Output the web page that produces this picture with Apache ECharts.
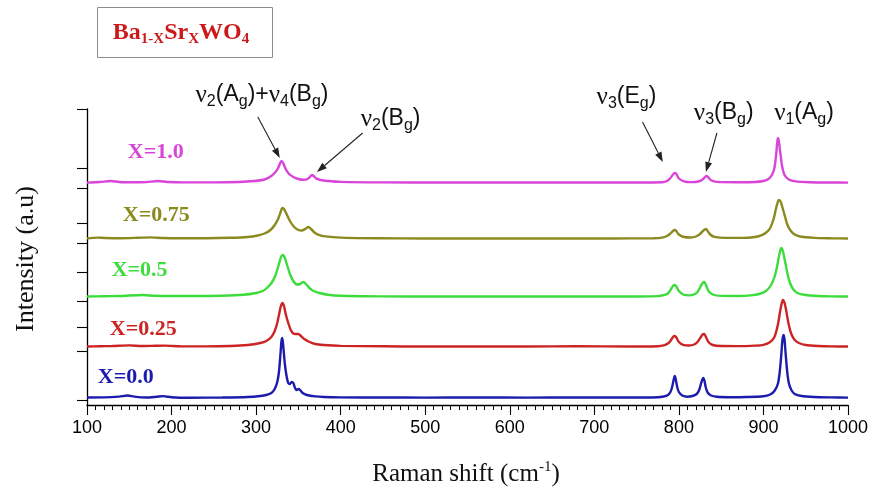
<!DOCTYPE html>
<html>
<head>
<meta charset="utf-8">
<script src="https://cdn.jsdelivr.net/npm/echarts@6/dist/echarts.min.js"></script>
<style>
  html, body { margin: 0; padding: 0; background: #fff; }
  #chart { width: 872px; height: 490px; }
</style>
</head>
<body>
<div id="chart"></div>
<script>
// Raman spectra of Ba(1-x)Sr(x)WO4, stacked with a vertical offset per composition.
const sampleNames = ['X=0.0', 'X=0.25', 'X=0.5', 'X=0.75', 'X=1.0'];
const sampleOffsets = [7, 58, 108, 166, 222];
const sampleColors = ['#1c1cac', '#cc2424', '#3ddc3d', '#8a8a1e', '#d944d9'];

// [Raman shift (cm-1), intensity above the spectrum's own baseline (a.u.)]
const specX00 = [
  [100,0.5],[120,0.6],[138,1.4],[148,2.5],[156,1.4],[170,0.5],[182,1.2],[190,1.9],[200,0.8],[220,0.3],
  [260,0.5],[290,1.0],[305,2],[312,3],[318,5],[322,9],[325,16],[327,26],[329,46],[330,57],[331,60],
  [332,53],[334,34],[336,22],[338,15],[340,14],[342,16],[344,15],[346,10],[348,8],[350,9],[352,8],
  [355,5],[360,3],[370,1.6],[380,1],[400,0.6],[450,0.5],[500,0.4],[560,0.5],[620,0.4],[680,0.5],
  [740,0.5],[775,0.8],[782,1.5],[787,3],[790,6],[792,11],[794,19],[795,22],[796,20],[798,11],
  [800,6],[804,2.5],[810,1.3],[816,2],[821,4],[824,8],[826,14],[828,19],[829,20],[830,18],[832,10],
  [834,5.5],[838,2.5],[845,1.2],[860,0.8],[880,1],[900,1.8],[908,3.5],[913,7],[917,14],[919,24],
  [921,42],[922,54],[923,61],[924,63],[925,58],[926,47],[928,27],[930,15],[933,8],[937,4],[945,2],
  [960,1],[980,0.6],[1000,0.4]
];
const specX025 = [
  [100,0.5],[115,0.8],[130,1],[150,1.6],[165,1],[180,1.2],[192,1.4],[210,0.7],[240,0.6],[270,1],
  [290,2],[305,4],[312,6],[318,10],[322,16],[325,24],[327,32],[329,40],[331,44],[333,41],[335,33],
  [338,24],[341,17],[344,13.5],[347,13],[350,13],[353,11],[357,8],[362,5.5],[370,3],[380,2],
  [400,1.1],[450,0.7],[500,0.5],[560,0.6],[620,0.5],[680,0.7],[740,0.5],[775,0.8],[782,1.6],
  [787,3.5],[790,6],[793,10],[795,11],[797,9.5],[800,5],[805,2.2],[812,1.5],[818,2.5],[822,5],
  [826,10],[828,12.5],[830,13],[832,10],[835,5],[840,2],[850,1],[870,0.9],[890,1.4],[900,2.2],
  [908,5],[913,10],[917,22],[920,37],[922,45],[923,47],[925,44],[927,36],[930,22],[933,13],
  [937,7],[942,4],[950,2],[965,1],[980,0.6],[1000,0.5]
];
const specX05 = [
  [100,0.5],[120,0.8],[140,1],[165,2],[180,1.2],[200,1],[230,1],[260,1.3],[285,2.2],[300,4],
  [308,6],[314,10],[319,15],[323,22],[326,30],[328,36],[330,41],[332,42],[334,39],[337,31],
  [340,23],[344,16],[348,12.5],[352,13],[356,15],[359,13],[363,9],[368,6],[375,4],[385,2.2],
  [400,1.2],[450,0.6],[500,0.5],[560,0.6],[620,0.5],[680,0.6],[740,0.5],[775,0.9],[782,1.8],
  [787,3.5],[790,7],[793,11],[795,12],[797,10.5],[800,6],[805,2.5],[812,1.6],[818,2.6],[822,5],
  [826,11],[828,14],[830,15],[832,12],[835,6],[840,2.5],[850,1.1],[870,1],[885,1.6],[895,3],
  [903,6],[909,12],[913,20],[916,30],[918,39],[920,47],[921,49],[923,46],[925,38],[928,25],
  [931,15],[935,8],[940,4],[950,2],[965,1],[980,0.6],[1000,0.5]
];
const specX075 = [
  [100,0.6],[112,1.4],[122,1],[140,0.8],[160,1.2],[175,1.6],[190,1],[210,0.8],[240,0.8],[270,1.2],
  [290,2],[302,3.5],[310,5.5],[317,9],[322,14],[326,20],[329,27],[331,31],[333,30],[336,25],
  [340,18],[345,12],[350,9],[354,8.5],[358,10],[362,12],[365,10],[369,6.5],[374,4.2],[382,2.6],
  [395,1.6],[420,0.9],[470,0.6],[530,0.5],[600,0.6],[660,0.5],[720,0.5],[770,0.8],[780,1.4],
  [786,3],[790,5.5],[793,8],[795,9],[797,8],[800,4.5],[806,2],[814,1.5],[820,2.5],[825,5],
  [829,8.5],[832,10],[834,8],[837,4.5],[842,2.2],[855,1.1],[875,1.1],[890,2],[898,3.8],[904,7],
  [908,11],[912,20],[915,31],[917,37],[918,39],[920,38],[922,33],[925,24],[928,15],[932,8.5],
  [937,4.5],[945,2.2],[960,1.1],[980,0.7],[1000,0.5]
];
const specX10 = [
  [100,0.4],[115,1],[128,2],[138,1],[155,0.7],[170,0.9],[184,2],[195,1],[215,0.6],[250,0.6],
  [280,1],[298,2],[310,3.5],[318,7],[323,11],[326,15],[328,19],[330,22],[332,20],[335,14],
  [339,9],[344,6],[350,4],[356,3.2],[360,3.6],[363,5.5],[366,8],[368,7],[371,4.6],[376,3],
  [385,2],[400,1.1],[450,0.6],[520,0.5],[600,0.5],[680,0.5],[750,0.5],[780,0.7],[786,2],
  [790,5],[793,8.5],[795,10],[797,9],[800,4.5],[806,1.7],[815,0.9],[823,1.5],[828,3.5],[831,6],
  [833,7],[835,5.5],[838,2.8],[845,1.1],[870,0.8],[890,1],[900,2],[906,4],[910,8],[913,15],
  [915,28],[916,38],[917,45],[918,43],[920,30],[922,17],[925,8],[930,3.5],[938,1.6],[955,0.8],
  [980,0.5],[1000,0.4]
];
const spectra = [specX00, specX025, specX05, specX075, specX10];

// Tick positions on the (unlabelled) intensity axis
const yTickValues = [5, 54, 78, 104, 133, 162, 182, 217, 237, 296];

// Peak assignments: text anchor, arrow start, arrow tip (data coordinates)
const peakLabels = [
  { text: '{n|ν}{s|2}{t|(A}{s|g}{t|)+}{n|ν}{s|4}{t|(B}{s|g}{t|)}', at: [307, 310], from: [302, 288], to: [328, 247] },
  { text: '{n|ν}{s|2}{t|(B}{s|g}{t|)}', at: [459, 286], from: [426, 272], to: [372, 233] },
  { text: '{n|ν}{s|3}{t|(E}{s|g}{t|)}', at: [738, 308], from: [757, 283], to: [781, 243] },
  { text: '{n|ν}{s|3}{t|(B}{s|g}{t|)}', at: [853, 292], from: [845, 272], to: [832, 233] },
  { text: '{n|ν}{s|1}{t|(A}{s|g}{t|)}', at: [948, 292], from: null, to: null }
];

// Left edge / vertical centre of each composition label (data coordinates)
const sampleLabelPos = [[112.7, 28], [126.9, 76], [129.2, 135], [142.4, 190], [148.3, 253]];

const chart = echarts.init(document.getElementById('chart'), null, { renderer: 'canvas' });

const series = spectra.map((spec, i) => ({
  name: sampleNames[i],
  type: 'line',
  data: spec.map(p => [p[0], sampleOffsets[i] + p[1]]),
  showSymbol: false,
  smooth: 0.25,
  lineStyle: { color: sampleColors[i], width: 2.4 },
  itemStyle: { color: sampleColors[i] },
  z: 3,
  animation: false
}));

chart.setOption({
  animation: false,
  backgroundColor: '#fff',
  grid: { left: 87, right: 24, top: 109, bottom: 85, containLabel: false },
  xAxis: {
    type: 'value',
    min: 100, max: 1000, interval: 100,
    axisLine: { lineStyle: { color: '#000', width: 1.3 } },
    axisTick: { length: 10, lineStyle: { color: '#000', width: 1.1 } },
    minorTick: { show: true, splitNumber: 10, length: 5, lineStyle: { color: '#000', width: 1 } },
    axisLabel: {
      color: '#000', fontSize: 18, fontFamily: 'Liberation Sans, Arial, sans-serif', margin: 14,
      formatter: v => String(v)
    },
    splitLine: { show: false }
  },
  yAxis: {
    type: 'value',
    min: 0, max: 296,
    axisLine: { show: true, lineStyle: { color: '#000', width: 1.3 } },
    axisTick: { show: true, length: 10, customValues: yTickValues, lineStyle: { color: '#000', width: 1.1 } },
    axisLabel: { show: false },
    splitLine: { show: false }
  },
  series: series
});

function toPx(p) { return chart.convertToPixel({ gridIndex: 0 }, p); }

const serif = 'Liberation Serif, Times New Roman, serif';
const sans = 'Liberation Sans, Arial, sans-serif';
const graphics = [];

// Compound name box
graphics.push({
  type: 'rect', shape: { x: 97.5, y: 7.5, width: 175, height: 50 },
  style: { fill: '#fff', stroke: '#8c8c8c', lineWidth: 1 }, z: 10
});
graphics.push({
  type: 'text', x: 181, y: 33, z: 11,
  style: {
    text: '{b|Ba}{s|1-X}{b|Sr}{s|X}{b|WO}{s|4}',
    align: 'center', verticalAlign: 'middle',
    rich: {
      b: { fontSize: 24, fontWeight: 'bold', fontFamily: serif, fill: '#cc1a1a' },
      s: { fontSize: 15, fontWeight: 'bold', fontFamily: serif, fill: '#cc1a1a', padding: [12, 0, 0, 0] }
    }
  }
});

// Composition labels
sampleNames.forEach((name, i) => {
  const p = toPx(sampleLabelPos[i]);
  graphics.push({
    type: 'text', x: p[0], y: p[1], z: 10,
    style: {
      text: name, fill: sampleColors[i], font: 'bold 22px ' + serif,
      align: 'left', verticalAlign: 'middle'
    }
  });
});

// Peak assignment labels and arrows
const richPeak = {
  n: { fontSize: 25, fontFamily: serif, fill: '#111' },
  t: { fontSize: 23, fontFamily: sans, fill: '#111' },
  s: { fontSize: 16, fontFamily: sans, fill: '#111', padding: [14, 0, 0, 0] }
};
peakLabels.forEach(a => {
  const p = toPx(a.at);
  graphics.push({
    type: 'text', x: p[0], y: p[1], z: 10,
    style: { text: a.text, align: 'center', verticalAlign: 'middle', rich: richPeak }
  });
  if (a.from && a.to) {
    const s = toPx(a.from), e = toPx(a.to);
    const dx = e[0] - s[0], dy = e[1] - s[1];
    const len = Math.sqrt(dx * dx + dy * dy);
    const ux = dx / len, uy = dy / len;
    const headL = 10, headW = 3.5;
    const bx = e[0] - ux * headL, by = e[1] - uy * headL;
    graphics.push({
      type: 'line', z: 10,
      shape: { x1: s[0], y1: s[1], x2: bx, y2: by },
      style: { stroke: '#222', lineWidth: 1.1 }
    });
    graphics.push({
      type: 'polygon', z: 10,
      shape: { points: [[e[0], e[1]], [bx - uy * headW, by + ux * headW], [bx + uy * headW, by - ux * headW]] },
      style: { fill: '#222' }
    });
  }
});

// Axis titles
graphics.push({
  type: 'text', x: 466, y: 474, z: 10,
  style: {
    text: 'Raman shift (cm{sup|-1})', align: 'center', verticalAlign: 'middle',
    font: '25px ' + serif, fill: '#111',
    rich: { sup: { fontSize: 15, fontFamily: serif, fill: '#111', padding: [0, 0, 13, 0] } }
  }
});
graphics.push({
  type: 'text', x: 26, y: 259, rotation: Math.PI / 2, z: 10,
  style: { text: 'Intensity (a.u)', align: 'center', verticalAlign: 'middle', font: '26px ' + serif, fill: '#111' }
});

chart.setOption({ graphic: graphics });
</script>
</body>
</html>
